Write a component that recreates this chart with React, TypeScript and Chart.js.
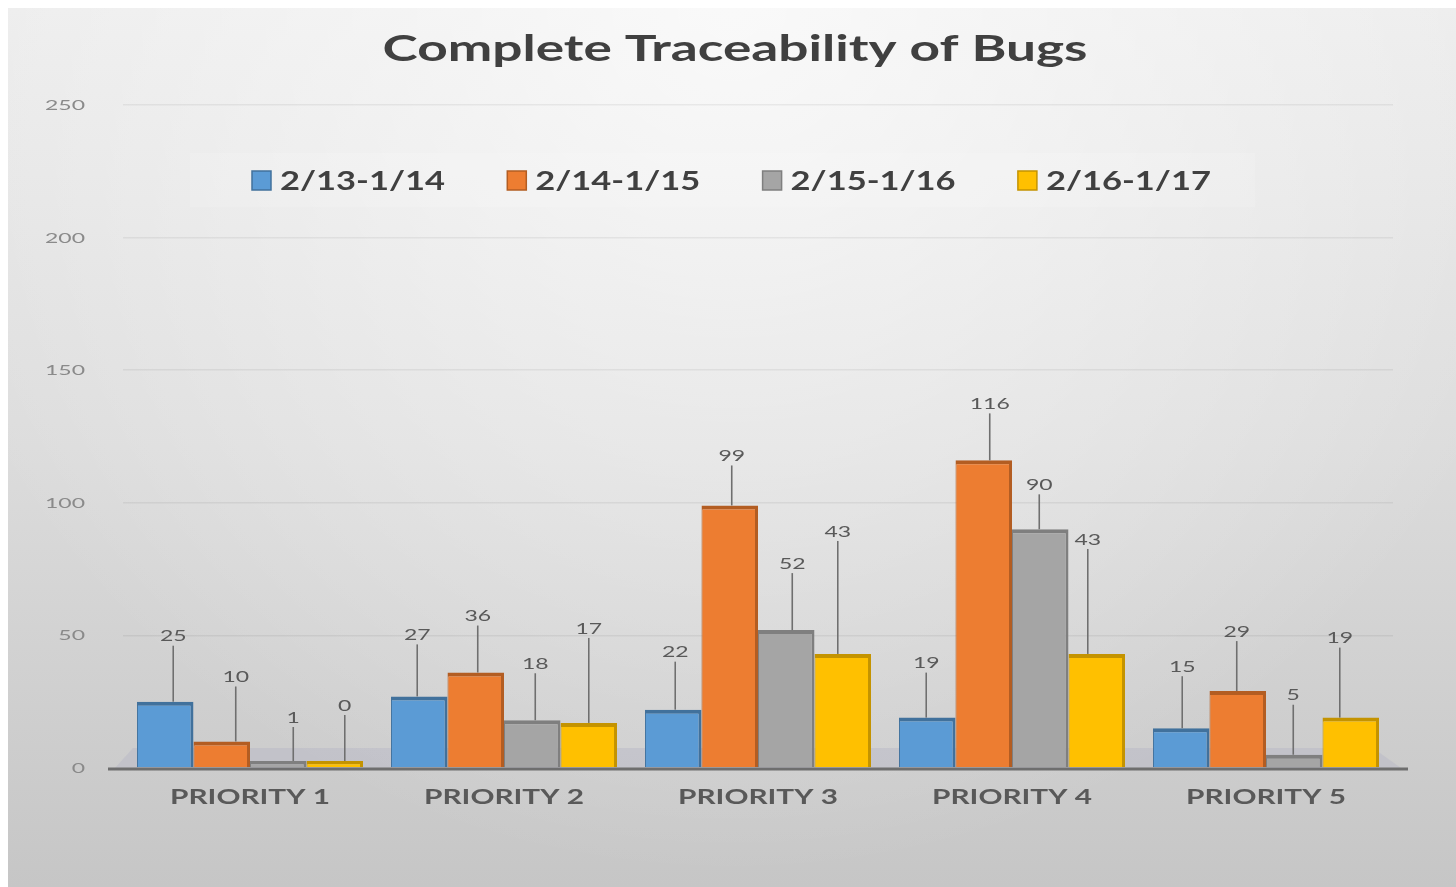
import React, { useEffect, useRef } from "react";
import { Chart, registerables } from "chart.js";

Chart.register(...registerables);

// ---------- data ----------
const chartTitle = "Complete Traceability of Bugs";
const categories = ["PRIORITY 1", "PRIORITY 2", "PRIORITY 3", "PRIORITY 4", "PRIORITY 5"];
const seriesLabels = ["2/13-1/14", "2/14-1/15", "2/15-1/16", "2/16-1/17"];
const series1 = [25, 27, 22, 19, 15];
const series2 = [10, 36, 99, 116, 29];
const series3 = [1, 18, 52, 90, 5];
const series4 = [0, 17, 43, 43, 19];
const yTicks = [0, 50, 100, 150, 200, 250];

// ---------- styles ----------
const fills = ["#5b9bd5", "#ed7d31", "#a5a5a5", "#ffc000"];
const edges = ["#41719c", "#b35d22", "#7f7f7f", "#c49300"];
// data-label placement: pixels above bar top, horizontal shift
const labelLift = [
  [66, 62, 58, 55, 62],
  [65, 57, 50, 57, 60],
  [44, 57, 67, 45, 60],
  [56, 95, 123, 115, 80],
];
const labelShift = [
  [8, -2, 2, -1, 1],
  [14, 2, 2, 6, -1],
  [15, 3, 6, -1, -1],
  [10, 0, -5, -9, -11],
];

const FONT = '"Lato", "Open Sans", "DejaVu Sans", sans-serif';

function fit(ctx: CanvasRenderingContext2D, font: string, sample: string, width: number) {
  ctx.save();
  ctx.font = font;
  const w = ctx.measureText(sample).width;
  ctx.restore();
  return width / w;
}

function txt(
  ctx: CanvasRenderingContext2D,
  text: string,
  x: number,
  yCenter: number,
  font: string,
  capH: number,
  color: string,
  align: CanvasTextAlign,
  sx: number
) {
  ctx.save();
  ctx.font = font;
  ctx.fillStyle = color;
  ctx.textAlign = align;
  ctx.textBaseline = "alphabetic";
  ctx.translate(x, yCenter + capH / 2);
  ctx.scale(sx, 1);
  ctx.fillText(text, 0, 0);
  ctx.restore();
}

const decor = {
  id: "decor",
  beforeDraw(chart: any) {
    const { ctx, width, height, chartArea } = chart;
    ctx.save();
    const g = ctx.createLinearGradient(0, 0, 0, height);
    g.addColorStop(0, "#ececec");
    g.addColorStop(0.5, "#dcdcdc");
    g.addColorStop(1, "#c6c6c6");
    ctx.fillStyle = g;
    ctx.fillRect(0, 0, width, height);
    const r = ctx.createRadialGradient(width * 0.5, 0, 0, width * 0.5, 0, width * 0.6);
    r.addColorStop(0, "rgba(255,255,255,0.7)");
    r.addColorStop(1, "rgba(255,255,255,0)");
    ctx.fillStyle = r;
    ctx.fillRect(0, 0, width, height);
    // legend backdrop
    ctx.fillStyle = "rgba(255,255,255,0.14)";
    ctx.fillRect(182, 145, 1065, 54);
    // floor
    ctx.fillStyle = "rgba(175,175,195,0.35)";
    ctx.beginPath();
    ctx.moveTo(chartArea.left - 8, chartArea.bottom);
    ctx.lineTo(chartArea.right + 8, chartArea.bottom);
    ctx.lineTo(chartArea.right - 20, chartArea.bottom - 20);
    ctx.lineTo(chartArea.left + 10, chartArea.bottom - 20);
    ctx.closePath();
    ctx.fill();
    ctx.restore();
  },
  afterDatasetsDraw(chart: any) {
    const { ctx, chartArea } = chart;
    const yScale = chart.scales.y;
    const xScale = chart.scales.x;

    // baseline
    ctx.save();
    ctx.strokeStyle = "#6e6e6e";
    ctx.lineWidth = 3;
    ctx.beginPath();
    ctx.moveTo(100, chartArea.bottom + 1);
    ctx.lineTo(1400, chartArea.bottom + 1);
    ctx.stroke();
    ctx.restore();

    // data labels with leader lines
    const dlFont = `400 16px ${FONT}`;
    const dlSx = fit(ctx, dlFont, "116", 40);
    chart.data.datasets.forEach((ds: any, i: number) => {
      const meta = chart.getDatasetMeta(i);
      meta.data.forEach((bar: any, j: number) => {
        const lx = bar.x + labelShift[i][j];
        const ly = bar.y - labelLift[i][j];
        const half = bar.width / 2 - 5;
        const ex = Math.max(bar.x - half, Math.min(bar.x + half, lx));
        ctx.save();
        ctx.strokeStyle = "#6f6f6f";
        ctx.lineWidth = 1.6;
        ctx.beginPath();
        ctx.moveTo(lx, ly + 10);
        ctx.lineTo(ex, bar.y);
        ctx.stroke();
        ctx.restore();
        txt(ctx, String(ds.data[j]), lx, ly, dlFont, 11.5, "#595959", "center", dlSx);
      });
    });

    // y tick labels
    const tFont = `400 14px ${FONT}`;
    const tSx = fit(ctx, tFont, "250", 40);
    yTicks.forEach((v) => {
      txt(ctx, String(v), 77, yScale.getPixelForValue(v), tFont, 10, "#8a8a8a", "right", tSx);
    });

    // category labels
    const xFont = `700 21px ${FONT}`;
    const xSx = fit(ctx, xFont, "PRIORITY 1", 160);
    categories.forEach((c, i) => {
      txt(ctx, c, xScale.getPixelForTick(i), 788, xFont, 15, "#595959", "center", xSx);
    });

    // title
    const tiFont = `700 37px ${FONT}`;
    const tiSx = fit(ctx, tiFont, chartTitle, 705);
    txt(ctx, chartTitle, 727, 39, tiFont, 27, "#404040", "center", tiSx);

    // legend
    const lgFont = `700 27px ${FONT}`;
    const lgSx = fit(ctx, lgFont, seriesLabels[0], 165);
    seriesLabels.forEach((s, i) => {
      const bx = 244 + i * 255.3;
      ctx.save();
      ctx.fillStyle = fills[i];
      ctx.strokeStyle = edges[i];
      ctx.lineWidth = 1.5;
      ctx.fillRect(bx, 163, 19, 19);
      ctx.strokeRect(bx, 163, 19, 19);
      ctx.restore();
      txt(ctx, s, bx + 28, 172, lgFont, 19, "#404040", "left", lgSx);
    });
  },
};

export default function App() {
  const ref = useRef<HTMLCanvasElement | null>(null);
  useEffect(() => {
    document.body.style.margin = "8px 0 0 8px";
    document.body.style.overflow = "hidden";
    const canvas = ref.current;
    if (!canvas) return;
    const values = [series1, series2, series3, series4];
    const chart = new Chart(canvas, {
      type: "bar",
      data: {
        labels: categories,
        datasets: seriesLabels.map((label, i) => ({
          label,
          data: values[i],
          backgroundColor: fills[i],
          borderColor: edges[i],
          borderWidth: { top: 4, right: 3, left: 1, bottom: 0 },
          borderSkipped: false,
          minBarLength: 7,
          categoryPercentage: 0.89,
          barPercentage: 1,
        })),
      },
      options: {
        animation: false,
        responsive: false,
        layout: { padding: { left: 115, right: 63, top: 97, bottom: 119 } },
        plugins: {
          legend: { display: false },
          title: { display: false },
          tooltip: { enabled: false },
        },
        scales: {
          x: {
            grid: { display: false, drawTicks: false },
            border: { display: false },
            ticks: { display: false },
          },
          y: {
            min: 0,
            max: 250,
            ticks: { display: false, stepSize: 50 },
            grid: {
              drawTicks: false,
              color: (c: any) => (c.tick && c.tick.value === 0 ? "rgba(0,0,0,0)" : "rgba(0,0,0,0.06)"),
              lineWidth: 1.5,
            },
            border: { display: false },
          },
        },
      },
      plugins: [decor],
    } as any);
    return () => chart.destroy();
  }, []);
  return (
    <div style={{ width: 1448, height: 879 }}>
      <canvas ref={ref} width={1448} height={879} style={{ display: "block" }} />
    </div>
  );
}
